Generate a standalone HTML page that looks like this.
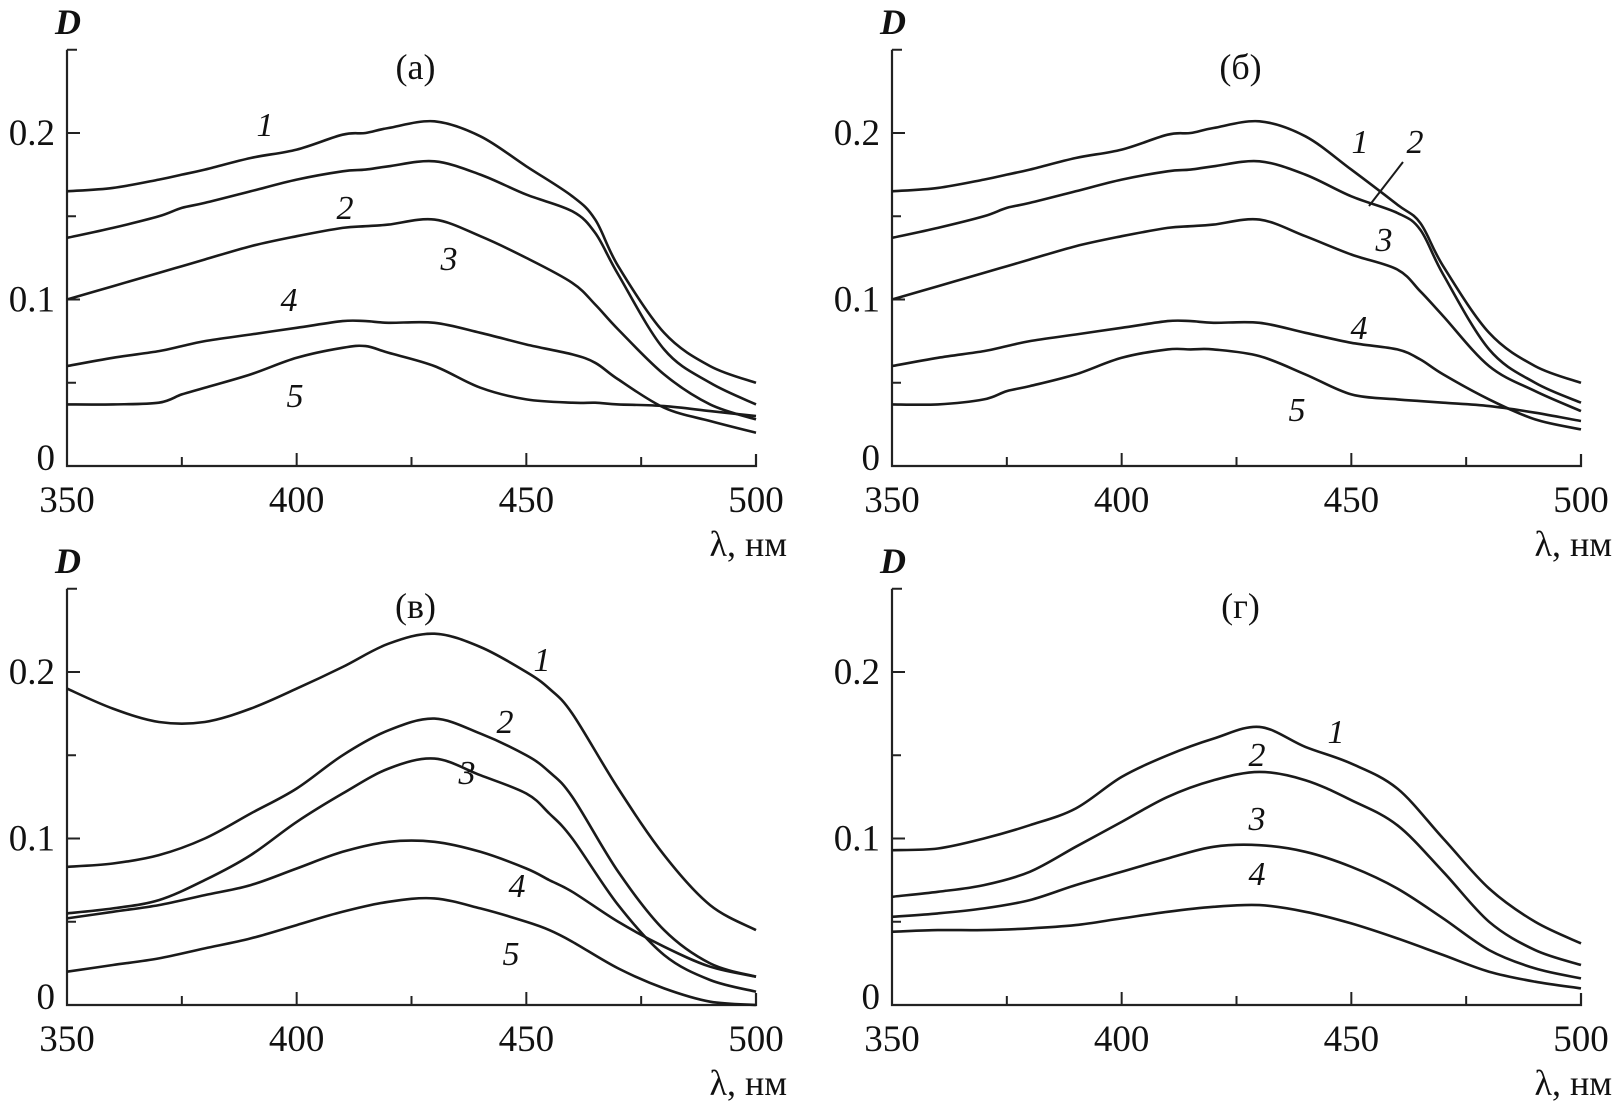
<!DOCTYPE html>
<html><head><meta charset="utf-8">
<style>
html,body{margin:0;padding:0;background:#fff;}
svg{display:block;font-family:"Liberation Serif",serif;}
</style></head>
<body>
<svg id="chart" width="1612" height="1118" viewBox="0 0 1612 1118" xmlns="http://www.w3.org/2000/svg"></svg>
<script>
// ---- data ----
const xTicks = [350, 400, 450, 500];
const xMinor = [375, 425, 475];
const yTicks = [0, 0.1, 0.2];
const yTickLabels = ["0", "0.1", "0.2"];
const yMinor = [0.05, 0.15];
const panelTitles = ["(а)", "(б)", "(в)", "(г)"];

const aWl = [350,360,370,375,380,390,400,410,415,420,430,440,450,460,465,470,480,490,500];
const a1 = [0.165,0.167,0.172,0.175,0.178,0.185,0.19,0.199,0.200,0.203,0.207,0.198,0.18,0.162,0.148,0.12,0.08,0.06,0.05];
const a2 = [0.137,0.143,0.150,0.155,0.158,0.165,0.172,0.177,0.178,0.180,0.183,0.175,0.163,0.153,0.14,0.115,0.07,0.05,0.037];
const a3 = [0.10,0.108,0.116,0.12,0.124,0.132,0.138,0.143,0.144,0.145,0.148,0.138,0.125,0.11,0.097,0.082,0.055,0.037,0.028];
const a4 = [0.06,0.065,0.069,0.072,0.075,0.079,0.083,0.087,0.087,0.086,0.086,0.08,0.073,0.067,0.062,0.052,0.035,0.027,0.02];
const a5 = [0.037,0.037,0.038,0.043,0.047,0.055,0.065,0.071,0.072,0.068,0.06,0.047,0.04,0.038,0.038,0.037,0.036,0.033,0.03];

const b1 = [0.165,0.167,0.172,0.175,0.178,0.185,0.19,0.199,0.200,0.203,0.207,0.198,0.178,0.157,0.146,0.12,0.08,0.06,0.05];
const b2 = [0.137,0.143,0.150,0.155,0.158,0.165,0.172,0.177,0.178,0.180,0.183,0.175,0.162,0.152,0.142,0.115,0.07,0.05,0.038];
const b3 = [0.10,0.108,0.116,0.12,0.124,0.132,0.138,0.143,0.144,0.145,0.148,0.138,0.127,0.118,0.105,0.09,0.06,0.045,0.033];
const b4 = [0.06,0.065,0.069,0.072,0.075,0.079,0.083,0.087,0.087,0.086,0.086,0.08,0.074,0.07,0.064,0.055,0.04,0.028,0.022];
const b5 = [0.037,0.037,0.040,0.045,0.048,0.055,0.065,0.070,0.070,0.070,0.066,0.055,0.043,0.040,0.039,0.038,0.036,0.032,0.027];

const cWl = [350,360,370,380,390,400,410,420,430,440,450,455,460,470,480,490,500];
const c1 = [0.19,0.178,0.17,0.17,0.178,0.19,0.203,0.217,0.223,0.215,0.2,0.19,0.175,0.13,0.09,0.06,0.045];
const c2 = [0.083,0.085,0.09,0.1,0.115,0.13,0.15,0.165,0.172,0.163,0.15,0.14,0.125,0.08,0.045,0.025,0.017];
const c3 = [0.055,0.058,0.063,0.075,0.09,0.11,0.127,0.142,0.148,0.138,0.127,0.115,0.1,0.06,0.03,0.015,0.008];
const c4 = [0.052,0.056,0.06,0.066,0.072,0.082,0.092,0.098,0.098,0.092,0.082,0.075,0.068,0.05,0.035,0.023,0.017];
const c5 = [0.02,0.024,0.028,0.034,0.04,0.048,0.056,0.062,0.064,0.058,0.05,0.045,0.038,0.022,0.01,0.002,0];

const dWl = [350,360,370,380,390,400,410,420,430,440,450,460,470,480,490,500];
const d1 = [0.093,0.094,0.1,0.108,0.118,0.137,0.15,0.16,0.167,0.155,0.145,0.13,0.1,0.07,0.05,0.037];
const d2 = [0.065,0.068,0.072,0.08,0.095,0.11,0.125,0.135,0.14,0.135,0.123,0.108,0.08,0.05,0.033,0.024];
const d3 = [0.053,0.055,0.058,0.063,0.072,0.08,0.088,0.095,0.096,0.092,0.083,0.07,0.052,0.033,0.022,0.016];
const d4 = [0.044,0.045,0.045,0.046,0.048,0.052,0.056,0.059,0.06,0.056,0.049,0.04,0.03,0.02,0.014,0.01];

const curveNames = ["1","2","3","4","5"];

// ---- layout ----
const panels = [
  {x0:67, x1:756, y0:466, name:"panel-a", wl:aWl, series:[a1,a2,a3,a4,a5],
   labels:[[265,136],[345,219],[449,270],[289,311],[295,407]]},
  {x0:892, x1:1581, y0:466, name:"panel-b", wl:aWl, series:[b1,b2,b3,b4,b5],
   labels:[[1360,153],[1415,153],[1384,251],[1359,339],[1297,421]]},
  {x0:67, x1:756, y0:1005, name:"panel-c", wl:cWl, series:[c1,c2,c3,c4,c5],
   labels:[[542,671],[505,733],[467,784],[517,897],[511,965]]},
  {x0:892, x1:1581, y0:1005, name:"panel-d", wl:dWl, series:[d1,d2,d3,d4],
   labels:[[1336,743],[1257,766],[1257,830],[1257,885]]}
];
const pxPerD = 1665;
const NS = "http://www.w3.org/2000/svg";
const svg = document.getElementById('chart');

function mk(tag, attrs, parent){
  const e = document.createElementNS(NS, tag);
  for (const k in attrs) e.setAttribute(k, attrs[k]);
  parent.appendChild(e);
  return e;
}
function smoothPath(pts){
  let d = "M"+pts[0][0].toFixed(1)+","+pts[0][1].toFixed(1);
  for (let i=0;i<pts.length-1;i++){
    const p0=pts[Math.max(0,i-1)], p1=pts[i], p2=pts[i+1], p3=pts[Math.min(pts.length-1,i+2)];
    const c1x=p1[0]+(p2[0]-p0[0])/6, c1y=p1[1]+(p2[1]-p0[1])/6;
    const c2x=p2[0]-(p3[0]-p1[0])/6, c2y=p2[1]-(p3[1]-p1[1])/6;
    d += " C"+c1x.toFixed(1)+","+c1y.toFixed(1)+" "+c2x.toFixed(1)+","+c2y.toFixed(1)+" "+p2[0].toFixed(1)+","+p2[1].toFixed(1);
  }
  return d;
}

panels.forEach((p, pi) => {
  const g = mk('g', {}, svg);
  
  
  const xs = v => p.x0 + (v-350)/150*(p.x1-p.x0);
  const ys = v => p.y0 - v*pxPerD;
  const yTop = ys(0.25);

  const axis = mk('path', {d:`M${p.x0},${yTop} L${p.x0},${p.y0} L${p.x1},${p.y0} L${p.x1},${p.y0-12}`, fill:'none', stroke:'#222', 'stroke-width':2.2}, g);
  
  
  const tt = mk('line', {x1:p.x0, y1:yTop, x2:p.x0+10, y2:yTop, stroke:'#222','stroke-width':2}, g);
  
  

  xTicks.forEach(v => {
    if (v>350 && v<500){
      const t = mk('line', {x1:xs(v), y1:p.y0, x2:xs(v), y2:p.y0-13, stroke:'#222','stroke-width':2}, g);
      
      
    }
    const l = mk('text', {x:xs(v), y:p.y0+46, 'font-size':37, 'text-anchor':'middle', fill:'#111'}, g);
    l.textContent = v;
    
    
  });
  xMinor.forEach(v => {
    const t = mk('line', {x1:xs(v), y1:p.y0, x2:xs(v), y2:p.y0-9, stroke:'#222','stroke-width':2}, g);
    
    
  });
  yTicks.forEach((v,i) => {
    if (v>0){
      const t = mk('line', {x1:p.x0, y1:ys(v), x2:p.x0+13, y2:ys(v), stroke:'#222','stroke-width':2}, g);
      
      
    }
    const l = mk('text', {x:p.x0-12, y:ys(v)+(v===0?4:12), 'font-size':37, 'text-anchor':'end', fill:'#111'}, g);
    l.textContent = yTickLabels[i];
    
    
  });
  yMinor.forEach(v => {
    const t = mk('line', {x1:p.x0, y1:ys(v), x2:p.x0+9, y2:ys(v), stroke:'#222','stroke-width':2}, g);
    
    
  });

  const yl = mk('text', {x:p.x0-12, y:p.y0-432, 'font-size':36, 'font-style':'italic', 'font-weight':'bold', fill:'#111'}, g);
  yl.textContent = 'D';
  
  

  const xl = mk('text', {x:p.x1+31, y:p.y0+90, 'font-size':36, 'text-anchor':'end', fill:'#111'}, g);
  xl.textContent = 'λ, нм';
  
  

  const title = mk('text', {x:xs(425)+4, y:p.y0-387, 'font-size':36, 'text-anchor':'middle', fill:'#111'}, g);
  title.textContent = panelTitles[pi];
  
  

  p.series.forEach((s, si) => {
    const pts = p.wl.map((w,i) => [xs(w), ys(Math.max(0, s[i]))]);
    const path = mk('path', {d:smoothPath(pts), fill:'none', stroke:'#1a1a1a', 'stroke-width':2.6, 'stroke-linejoin':'round'}, g);
    
    
    const lab = mk('text', {x:p.labels[si][0], y:p.labels[si][1], 'font-size':34, 'font-style':'italic', 'text-anchor':'middle', fill:'#111'}, g);
    lab.textContent = curveNames[si];
    
    
  });

  if (pi === 1){
    const lead = mk('line', {x1:1403, y1:162, x2:1369, y2:206, stroke:'#1a1a1a', 'stroke-width':2}, g);
    
    
  }
});
</script>
</body></html>
